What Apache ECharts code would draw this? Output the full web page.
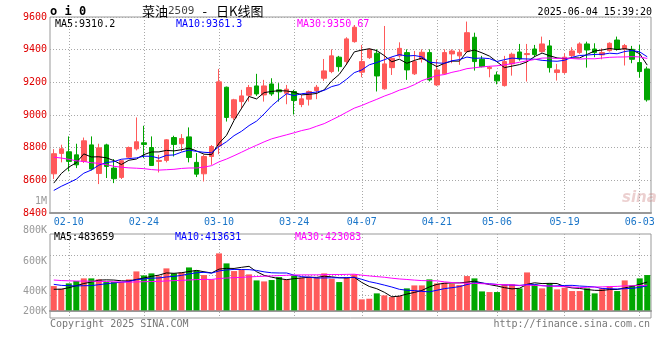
<!DOCTYPE html>
<html><head><meta charset="utf-8">
<script src="https://cdn.jsdelivr.net/npm/echarts@6/dist/echarts.min.js"></script>
<style>html,body{margin:0;padding:0;background:#fff}#c{width:660px;height:360px}</style>
</head><body><div id="c"></div>
<script>
// ---- data ----
const dates = ['02-06','02-07','02-10','02-11','02-12','02-13','02-14','02-17','02-18','02-19','02-20','02-21','02-24','02-25','02-26','02-27','02-28',
'03-03','03-04','03-05','03-06','03-07','03-10','03-11','03-12','03-13','03-14','03-17','03-18','03-19','03-20','03-21','03-24','03-25','03-26','03-27','03-28','03-31',
'04-01','04-02','04-03','04-07','04-08','04-09','04-10','04-11','04-14','04-15','04-16','04-17','04-18','04-21','04-22','04-23','04-24','04-25','04-28','04-29','04-30',
'05-06','05-07','05-08','05-09','05-12','05-13','05-14','05-15','05-16','05-19','05-20','05-21','05-22','05-23','05-26','05-27','05-28','05-29','05-30',
'06-03','06-04'];
const labelDates = ['02-10','02-24','03-10','03-24','04-07','04-21','05-06','05-19','06-03'];
const opens = [8640,8765,8775,8756,8716,8817,8642,8817,8675,8618,8742,8793,8830,8801,8716,8722,8862,8824,8866,8710,
8640,8746,8811,9170,8983,9082,9121,9178,9123,9190,9154,9133,9144,9064,9097,9150,9225,9266,9354,9327,
9449,9262,9351,9378,9160,9290,9362,9382,9252,9341,9382,9184,9252,9374,9362,9388,9476,9341,9284,9245,
9180,9313,9386,9370,9404,9388,9423,9260,9260,9364,9382,9435,9404,9368,9394,9459,9404,9402,9321,9282];
const closes = [8763,8793,8716,8695,8842,8669,8799,8685,8610,8720,8801,8836,8820,8691,8722,8848,8820,8856,8740,8638,
8746,8807,9203,8985,9093,9117,9168,9129,9178,9129,9142,9158,9089,9099,9144,9170,9270,9362,9296,9466,
9537,9327,9402,9239,9313,9347,9408,9276,9327,9384,9215,9276,9382,9392,9384,9504,9327,9296,9292,9209,
9327,9372,9343,9376,9370,9435,9290,9276,9354,9392,9435,9398,9382,9382,9439,9402,9425,9341,9266,9093];
const lows = [8608,8710,8655,8675,8706,8661,8577,8614,8583,8608,8736,8783,8736,8691,8648,8710,8746,8777,8710,8620,
8593,8695,8760,8960,8970,9036,9082,9117,9082,9117,9082,9066,9003,9048,9058,9097,9209,9256,9266,9307,
9443,9231,9343,9144,9154,9245,9351,9215,9245,9321,9205,9178,9245,9317,9307,9382,9272,9292,9231,9188,
9174,9241,9333,9205,9354,9382,9260,9211,9252,9354,9372,9290,9354,9341,9388,9394,9303,9317,9229,9082];
const highs = [8791,8818,8869,8824,8862,8869,8824,8824,8730,8726,8807,8985,8934,8869,8756,8852,8873,8883,8924,8767,
8756,8816,9282,9174,9099,9154,9184,9252,9215,9225,9195,9184,9154,9123,9150,9184,9343,9402,9362,9476,
9551,9429,9408,9402,9545,9354,9445,9402,9392,9402,9402,9341,9402,9402,9402,9572,9504,9362,9300,9266,
9362,9382,9435,9435,9429,9480,9459,9313,9378,9415,9445,9449,9439,9408,9445,9480,9435,9423,9429,9296];
const volumes = [409000,364000,454000,493000,538000,538000,521000,476000,476000,476000,521000,655000,588000,622000,577000,706000,622000,638000,722000,672000,
594000,521000,958000,790000,661000,689000,605000,504000,487000,510000,560000,521000,588000,549000,566000,549000,622000,532000,476000,549000,
605000,185000,196000,286000,252000,224000,241000,370000,420000,420000,521000,454000,465000,448000,426000,577000,538000,319000,308000,308000,
437000,437000,370000,638000,437000,370000,459000,353000,381000,325000,325000,370000,286000,370000,403000,325000,504000,420000,538000,594000];
// closes and volumes of the 29 sessions before the window (estimated from where the MA lines start)
const priorCloses = [8960,8940,8980,8950,8920,8900,8930,8910,8890,8920,8900,8900,
8860,8820,8780,8740,8700,8660,8630,8590,8540,8500,8470,8480,8475,8500,8520,8560,8572];
const priorVolumes = [620000,580000,610000,560000,600000,590000,570000,610000,590000,607000,
520000,480000,530000,490000,510000,470000,500000,520000,480000,483000,540000,510000,530000,500000,525000,360000,330000,320000,356000];
const priceMaText = ['MA5:9310.2','MA10:9361.3','MA30:9350.67'];
const volMaText = ['MA5:483659','MA10:413631','MA30:423083'];
const volAxisLabels = ['800K','600K','400K','200K'];
const title = {name:'菜油', code:'2509', dash:'-', tail:'日K线图'};
const timeText = '2025-06-04 15:39:20';

// ---- helpers ----
function movingAverage(vals, prior, n){
  const all = prior.concat(vals), out = [];
  for (let i = 0; i < vals.length; i++){
    let s = 0;
    for (let k = 0; k < n; k++) s += all[prior.length + i - k];
    out.push(+(s / n).toFixed(2));
  }
  return out;
}
const RED = '#ff5a5a', GREEN = '#00a600';
const MONO = 'DejaVu Sans Mono';
const ohlc = opens.map((o, i) => [o, closes[i], lows[i], highs[i]]);
const volBars = volumes.map((v, i) => ({value: v, itemStyle: {color: closes[i] >= opens[i] ? RED : GREEN}}));
const showLabel = (idx, val) => labelDates.indexOf(val) >= 0;
const grid = {type: [1, 2], color: '#a8a8a8', width: 1};
const maColors = ['#000000', '#0000ff', '#ff00ff'];
const maPeriods = [5, 10, 30];

// volume axis: bar base at 0, ~16.8K per pixel
const VOL_MIN = -128000, VOL_MAX = 1284000;

const series = [{
  type: 'candlestick', xAxisIndex: 0, yAxisIndex: 0, data: ohlc, barWidth: 5,
  itemStyle: {color: RED, color0: GREEN, borderColor: RED, borderColor0: GREEN, borderWidth: 1}
}];
maPeriods.forEach((n, k) => {
  series.push({type: 'line', xAxisIndex: 0, yAxisIndex: 0, data: movingAverage(closes, priorCloses, n),
    showSymbol: false, silent: true, z: 3, lineStyle: {color: maColors[k], width: 1}});
});
series.push({type: 'bar', xAxisIndex: 1, yAxisIndex: 1, data: volBars, barWidth: 6});
maPeriods.forEach((n, k) => {
  series.push({type: 'line', xAxisIndex: 1, yAxisIndex: 1, data: movingAverage(volumes, priorVolumes, n),
    showSymbol: false, silent: true, z: 3, lineStyle: {color: maColors[k], width: 1}});
});

const txt = (x, y, text, style) => ({type: 'text', x: x, y: y, style: Object.assign({text: text, fontFamily: MONO, fontSize: 10, fill: '#000', verticalAlign: 'middle'}, style)});
const graphic = [
  txt(50, 12, 'o i 0', {fontSize: 12, fontWeight: 'bold'}),
  {type: 'text', x: 142, y: 11, style: {text: '{a|' + title.name + '}{b|' + title.code + '}{c|' + title.dash + '}{a|' + title.tail + '}', verticalAlign: 'middle',
    rich: {a: {fontFamily: 'Noto Sans CJK SC', fontSize: 13, fill: '#000'},
           b: {fontFamily: MONO, fontSize: 11, fill: '#444'},
           c: {fontFamily: 'Noto Sans CJK SC', fontSize: 13, fill: '#000', padding: [0, 9, 0, 8]}}}},
  txt(652, 12, timeText, {align: 'right', fontSize: 10}),
  txt(55, 24, priceMaText[0], {fill: maColors[0]}),
  txt(176, 24, priceMaText[1], {fill: maColors[1]}),
  txt(297, 24, priceMaText[2], {fill: maColors[2]}),
  txt(54, 237, volMaText[0], {fill: maColors[0]}),
  txt(175, 237, volMaText[1], {fill: maColors[1]}),
  txt(295, 237, volMaText[2], {fill: maColors[2]}),
  txt(47, 201, '1M', {align: 'right', fill: '#999'}),
  txt(50, 324, 'Copyright 2025 SINA.COM', {fill: '#777'}),
  txt(650, 324, 'http://finance.sina.com.cn', {align: 'right', fill: '#777'}),
  {type: 'text', x: 622, y: 198, style: {text: 'sina', fontFamily: 'DejaVu Sans', fontStyle: 'italic', fontWeight: 'bold', fontSize: 15, fill: 'rgba(200,120,120,0.35)', verticalAlign: 'middle'}}
];
const volLabelY = [230, 261, 291, 311];
volAxisLabels.forEach((t, i) => graphic.push(txt(47, volLabelY[i], t, {align: 'right', fill: '#999'})));

const chart = echarts.init(document.getElementById('c'), null, {renderer: 'canvas'});
chart.setOption({
  animation: false,
  backgroundColor: '#fff',
  grid: [
    {left: 50, width: 601, top: 17, height: 196, show: true, borderColor: '#999', borderWidth: 1, backgroundColor: 'transparent'},
    {left: 50, width: 601, top: 234, height: 84, show: true, borderColor: '#999', borderWidth: 1, backgroundColor: 'transparent'},
    {left: 50, width: 601, top: 255.7, height: 40, show: false}
  ],
  xAxis: [
    {type: 'category', gridIndex: 0, data: dates, boundaryGap: true,
      axisLine: {lineStyle: {color: '#999', width: 2}}, axisTick: {show: false},
      axisLabel: {interval: showLabel, color: '#1a75c8', fontSize: 10, fontFamily: MONO, margin: 4},
      splitLine: {show: true, interval: showLabel, alignWithLabel: true, lineStyle: grid}},
    {type: 'category', gridIndex: 1, data: dates, boundaryGap: true,
      axisLine: {lineStyle: {color: '#999', width: 2}}, axisTick: {show: false}, axisLabel: {show: false},
      splitLine: {show: true, interval: showLabel, alignWithLabel: true, lineStyle: grid}},
    {type: 'value', gridIndex: 2, show: false}
  ],
  yAxis: [
    {type: 'value', gridIndex: 0, min: 8400, max: 9600, interval: 200,
      axisLine: {show: false}, axisTick: {show: false},
      axisLabel: {color: '#e00000', fontSize: 10, fontFamily: MONO, margin: 3, formatter: v => String(v)},
      splitLine: {lineStyle: grid}},
    {type: 'value', gridIndex: 1, min: VOL_MIN, max: VOL_MAX,
      axisLine: {show: false}, axisTick: {show: false}, axisLabel: {show: false}, splitLine: {show: false}},
    {type: 'value', gridIndex: 2, min: 0, max: 2, interval: 1,
      axisLine: {show: false}, axisTick: {show: false}, axisLabel: {show: false}, splitLine: {lineStyle: grid}}
  ],
  series: series,
  graphic: graphic
});
</script></body></html>
